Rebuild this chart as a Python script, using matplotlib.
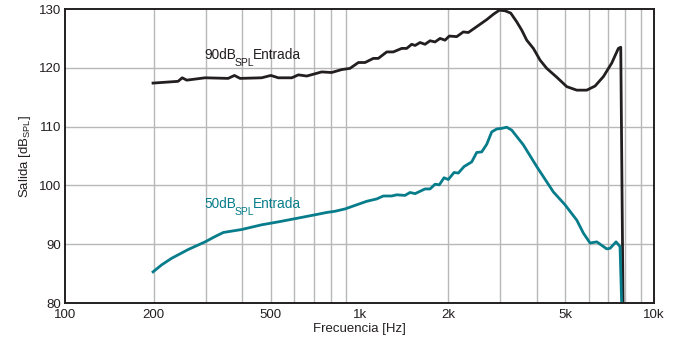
import matplotlib
matplotlib.use('Agg')
import matplotlib.pyplot as plt
from matplotlib.ticker import FixedLocator, NullFormatter
import numpy as np

plt.rcParams['font.family'] = ['Liberation Sans', 'DejaVu Sans']
plt.rcParams['mathtext.default'] = 'regular'

# 90 dB SPL input (black)
f_90 = [199, 242, 250, 259, 299, 358, 376, 393, 465, 500, 530, 589, 620, 662,
        744, 804, 870, 928, 991, 1044, 1114, 1158, 1237, 1302, 1391, 1446,
        1504, 1544, 1605, 1669, 1736, 1805, 1877, 1951, 2018, 2138, 2251,
        2341, 2500, 2704, 2847, 2984, 3120, 3262, 3420, 3555, 3696, 3893,
        4103, 4323, 4674, 5053, 5465, 5909, 6306, 6730, 7184, 7567, 7709, 7880]
out_90 = [117.4, 117.7, 118.3, 117.9, 118.3, 118.2, 118.7, 118.2, 118.3, 118.7,
          118.3, 118.3, 118.8, 118.6, 119.3, 119.2, 119.7, 119.9, 120.9, 120.9,
          121.6, 121.6, 122.7, 122.7, 123.3, 123.3, 124.0, 123.8, 124.3, 124.0,
          124.6, 124.4, 125.0, 124.7, 125.4, 125.3, 126.1, 126.0, 127.0, 128.2,
          129.1, 129.8, 129.7, 129.3, 127.8, 126.4, 124.7, 123.3, 121.3, 119.9,
          118.4, 116.8, 116.2, 116.2, 116.9, 118.5, 120.8, 123.3, 123.5, 70.0]

# 50 dB SPL input (teal)
f_50 = [199, 213, 230, 262, 299, 323, 345, 398, 465, 530, 612, 706, 774, 825,
        893, 978, 1058, 1144, 1204, 1286, 1337, 1427, 1484, 1544, 1669, 1736,
        1805, 1866, 1936, 2002, 2094, 2165, 2264, 2404, 2500, 2600, 2704, 2811,
        2924, 3040, 3161, 3287, 3599, 3997, 4550, 4987, 5465, 5754, 6064, 6392,
        6911, 7092, 7430, 7666, 7866]
out_50 = [85.3, 86.5, 87.6, 89.1, 90.4, 91.3, 92.0, 92.5, 93.3, 93.8, 94.4,
          95.0, 95.4, 95.6, 96.0, 96.7, 97.3, 97.7, 98.2, 98.2, 98.4, 98.3,
          98.8, 98.6, 99.4, 99.4, 100.2, 100.1, 101.3, 101.0, 102.2, 102.1,
          103.2, 104.0, 105.6, 105.7, 107.0, 109.1, 109.6, 109.7, 109.9, 109.4,
          106.9, 103.2, 98.9, 96.7, 94.1, 91.9, 90.2, 90.4, 89.2, 89.3, 90.4,
          89.6, 70.0]

xticks = [100, 200, 500, 1000, 2000, 5000, 10000]
xticklabels = ['100', '200', '500', '1k', '2k', '5k', '10k']
yticks = [80, 90, 100, 110, 120, 130]

black = '#231f20'
teal = '#077d8b'

fig = plt.figure(figsize=(6.76, 3.41), dpi=100)
ax = fig.add_axes([0.0962, 0.1114, 0.8713, 0.8622])

ax.set_xscale('log')
ax.set_xlim(100, 10000)
ax.set_ylim(80, 130)

grid_x = [m * d for d in (100, 1000) for m in range(2, 10)]
for g in grid_x:
    ax.axvline(g, color='#b8b8b8', lw=1.0, zorder=1)
for g in yticks[1:-1]:
    ax.axhline(g, color='#b8b8b8', lw=1.0, zorder=1)

ax.plot(f_90, out_90, color=black, lw=2.0, zorder=3, solid_joinstyle='round')
ax.plot(f_50, out_50, color=teal, lw=2.0, zorder=3, solid_joinstyle='round')

ax.xaxis.set_major_locator(FixedLocator(xticks))
ax.xaxis.set_minor_locator(FixedLocator(grid_x))
ax.xaxis.set_minor_formatter(NullFormatter())
ax.set_xticks(xticks)
ax.set_xticklabels(xticklabels)
ax.set_yticks(yticks)
ax.tick_params(axis='both', which='both', length=0, labelsize=9.5, pad=4,
               colors='#231f20')
ax.tick_params(axis='y', pad=3)

for s in ax.spines.values():
    s.set_linewidth(1.4)
    s.set_color(black)
    s.set_zorder(4)

ax.set_xlabel('Frecuencia [Hz]', fontsize=9.5, color=black, labelpad=2)
ax.set_ylabel('Salida [dB$_{SPL}$]', fontsize=9.5, color=black, labelpad=4)


def sub_label(x, y, main, sub, tail, color):
    t1 = ax.text(x, y, main, fontsize=9.8, color=color, va='baseline', ha='left')
    t2 = ax.annotate(sub, xy=(1, y), xycoords=(t1, ax.transData),
                     xytext=(-1.6, -4.6), textcoords='offset points',
                     fontsize=7.5, color=color, va='baseline', ha='left')
    ax.annotate(tail, xy=(1, y), xycoords=(t2, ax.transData),
                xytext=(-0.8, 0), textcoords='offset points',
                fontsize=9.8, color=color, va='baseline', ha='left')


sub_label(298, 121.45, '90dB', 'SPL', 'Entrada', black)
sub_label(298, 96.1, '50dB', 'SPL', 'Entrada', teal)

fig.savefig('out.png', dpi=100)
